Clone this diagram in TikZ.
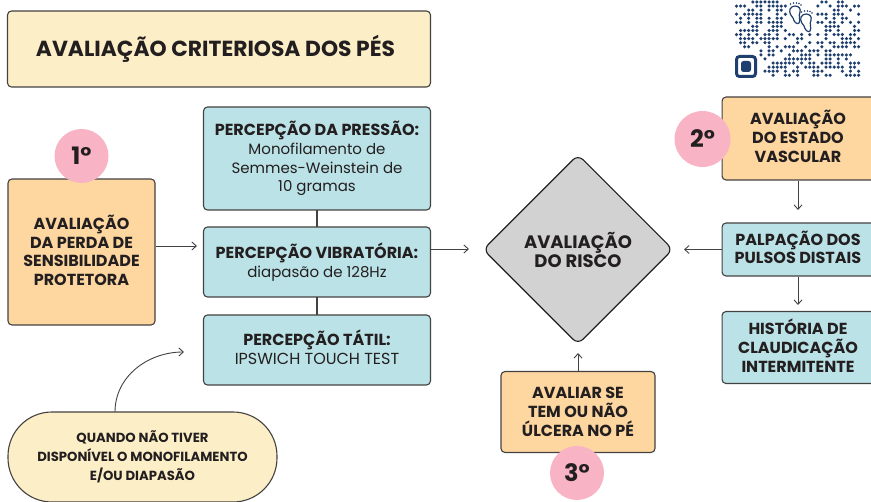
\documentclass[tikz,border=0pt]{standalone}
\usepackage{fontspec}
\setmainfont{Poppins}
\usetikzlibrary{arrows.meta}
\usetikzlibrary{shapes.geometric}
\definecolor{txtc}{HTML}{231F20}
\definecolor{orng}{HTML}{FDD6A0}
\definecolor{teal}{HTML}{BBE2E6}
\definecolor{crem}{HTML}{FCEFC7}
\definecolor{pink}{HTML}{F8B4C4}
\definecolor{gris}{HTML}{D2D2D2}
\definecolor{qrbl}{HTML}{1F3F6E}
\tikzset{
    box/.style    = {draw=txtc!85!white, line width=1.1pt, rounded corners=4pt, align=center, text=txtc, font=\fontsize{16}{18.7}\selectfont\bfseries, inner sep=0pt, anchor=center},
    orbox/.style  = {box, fill=orng},
    tlbox/.style  = {box, fill=teal},
    seq/.style    = {circle, fill=pink, minimum size=54pt, inner sep=0pt, text=txtc, font=\fontsize{24}{28}\selectfont\bfseries},
    arw/.style    = {-{Straight Barb[length=4.5pt,width=8pt]}, draw=txtc!85!white, line width=0.9pt},
    lnk/.style    = {draw=txtc!85!white, line width=1.1pt},
    foot/.style   = {draw=qrbl, line width=1.2pt, fill=white},
}
\newcommand*{\reg}[1]{{\fontsize{15}{18.7}\selectfont\mdseries #1}}
\begin{document}
\begin{tikzpicture}[x=1pt,y=-1pt]
    \useasboundingbox (0,0) rectangle (871,502);
    % qr
    \pgfmathsetseed{4711}
    \foreach \i in {0,...,30} {
        \foreach \j in {0,...,18} {
            \pgfmathparse{(rnd<0.58 && !(\i<6 && \j>12) && !(\i>12 && \i<20 && \j<8)) ? 1 : 0}
            \ifnum\pgfmathresult=1
                \fill [qrbl] (736.5+\i*4.07,2+\j*4.07) circle (1.75pt);
            \fi
        }
    }
    \draw [qrbl, line width=3pt, rounded corners=3pt] (736.5,56.5) rectangle (755.5,76.5);
    \fill [qrbl, rounded corners=2.5pt] (741,61) rectangle (751,72);
    \foreach \sx/\sy in {0/0,11/8} {
        \draw [foot, shift={(\sx,\sy)}] (790,9) .. controls (789,13) and (791,16) .. (793,18) .. controls (794,22) and (797,25) .. (799,23) .. controls (801,20) and (798,16) .. (800,12) .. controls (801,9) and (799,6) .. (795,6) .. controls (793,6) and (791,7) .. (790,9);
        \foreach \tx/\ty in {790.5/4,793.5/3,796.5/3,799/3.5,801/5}
            \fill [qrbl, shift={(\sx,\sy)}] (\tx,\ty) circle (0.9pt);
    }
    % title
    \node [box, fill=crem, minimum width=423pt, minimum height=76pt, font=\fontsize{21.8}{24}\selectfont\bfseries] (titulo) at (219,49) {AVALIAÇÃO CRITERIOSA DOS PÉS\hspace*{7pt}};
    % left column
    \node [orbox, minimum width=147pt, minimum height=146pt] (perda) at (81.5,252) {};
    \node [box, draw=none] (perdatxt) at (81.5,250.5) {AVALIAÇÃO\\DA PERDA DE\\SENSIBILIDADE\\PROTETORA};
    \node [seq] (um) at (81.5,156) {1°};
    % tests
    \draw [lnk] (317,205) -- (317,320);
    \node [tlbox, minimum width=227pt, minimum height=103pt] (pressao) at (317,158.5) {PERCEPÇÃO DA PRESSÃO:\\\reg{Monofilamento de}\\\reg{Semmes-Weinstein de}\\\reg{10 gramas}};
    \node [tlbox, minimum width=227pt, minimum height=70pt] (vibra) at (317,262) {PERCEPÇÃO VIBRATÓRIA:\\\reg{diapasão de 128Hz}};
    \node [tlbox, minimum width=227pt, minimum height=70pt] (tatil) at (317,350) {};
    \node [box, draw=none] (tatiltxt) at (317,347.5) {PERCEPÇÃO TÁTIL:\\{\mdseries IPSWICH TOUCH TEST}};
    % pill
    \node [box, fill=crem, rounded corners=44pt, minimum width=269pt, minimum height=90pt, font=\fontsize{13.2}{19}\selectfont\bfseries] (quando) at (142.5,457) {QUANDO NÃO TIVER\\DISPONÍVEL O MONOFILAMENTO\\E/OU DIAPASÃO};
    \coordinate (tatilin) at (184,352);
    \draw [arw] (115,412) to [out=90,in=180] (tatilin);
    % risk
    \node [diamond, draw=txtc, line width=1.1pt, fill=gris, rounded corners=7pt, minimum width=190pt, minimum height=190pt, inner sep=0pt, align=center, text=txtc, font=\fontsize{18}{19}\selectfont\bfseries] (risco) at (578,249.5) {AVALIAÇÃO\\DO RISCO};
    \node [orbox, minimum width=154pt, minimum height=81pt] (ulcera) at (578,412) {AVALIAR SE\\TEM OU NÃO\\ÚLCERA NO PÉ};
    \node [seq] (tres) at (577,473) {3°};
    % right column
    \node [orbox, minimum width=160pt, minimum height=83pt, anchor=west] (vascular) at (721.5,138.5) {};
    \node [box, draw=none] (vasctxt) at (798,136.5) {AVALIAÇÃO\\DO ESTADO\\VASCULAR};
    \node [seq, minimum size=56pt] (dois) at (702.5,139) {2°};
    \node [tlbox, minimum width=160pt, minimum height=53pt, anchor=west] (pulsos) at (721.5,249.5) {};
    \node [box, draw=none] (pulstxt) at (798,247.5) {PALPAÇÃO DOS\\PULSOS DISTAIS};
    \node [tlbox, minimum width=160pt, minimum height=72pt, anchor=west] (claud) at (721.5,347.5) {};
    \node [box, draw=none] (claudtxt) at (798,345.5) {HISTÓRIA DE\\CLAUDICAÇÃO\\INTERMITENTE};
    % arrows
    \coordinate (vibrain) at (197,246);
    \coordinate (riscoin) at (469,249);
    \coordinate (riscoer) at (684,249.5);
    \coordinate (riscobx) at (578,353);
    \coordinate (pulsoin) at (798,210);
    \coordinate (claudin) at (798,305);
    \draw [arw] (perda.east |- vibrain) -- (vibrain);
    \draw [arw] (vibra.east |- riscoin) -- (riscoin);
    \draw [arw] (pulsos.west |- riscoer) -- (riscoer);
    \draw [arw] (ulcera.north) -- (riscobx);
    \draw [arw] (vascular.south -| pulsoin) -- (pulsoin);
    \draw [arw] (pulsos.south -| claudin) -- (claudin);
\end{tikzpicture}
\end{document}
